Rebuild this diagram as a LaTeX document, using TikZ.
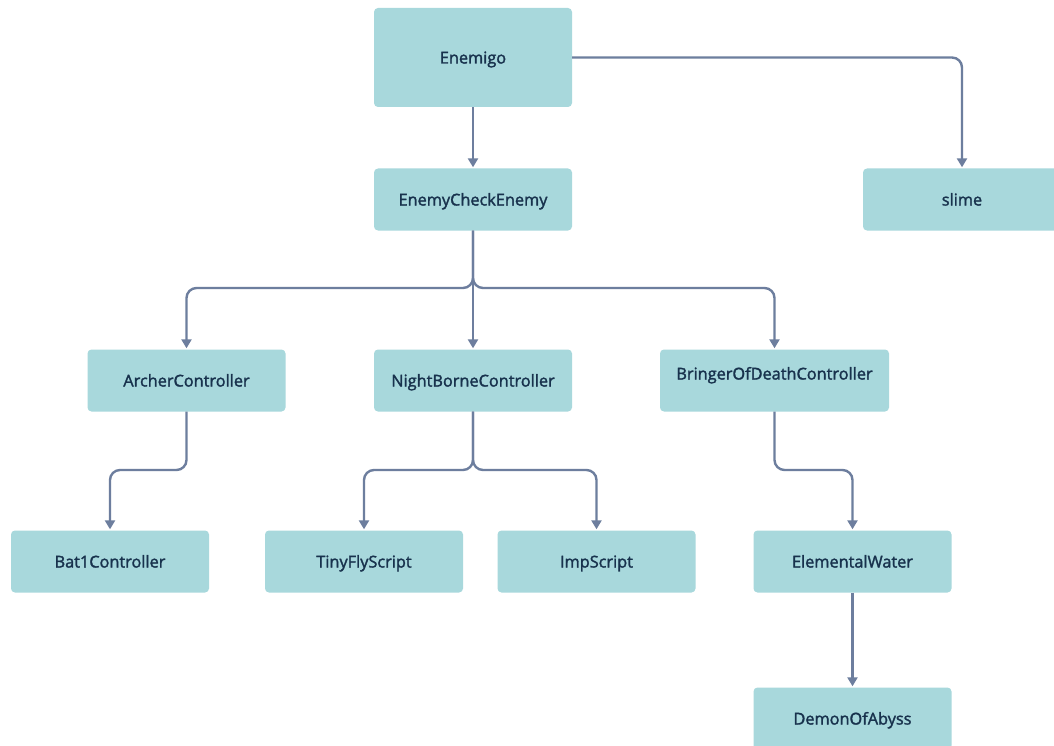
\documentclass[tikz,border=0pt]{standalone}
\usepackage{fontspec}
\newfontfamily\labfont{Open Sans}[FakeBold=1.8]
\usetikzlibrary{arrows.meta}
\definecolor{boxfill}{HTML}{A8D8DC}
\definecolor{boxtext}{HTML}{18324D}
\definecolor{linkc}{HTML}{6D7E9E}
\tikzset{
  cls/.style={fill=boxfill, draw=none, rounded corners=4pt, minimum width=198pt,
    minimum height=62pt, inner sep=0pt, font=\labfont\fontsize{16.3}{19}\selectfont,
    text=boxtext, text height=13.5pt, text depth=1.5pt},
  link/.style={draw=linkc, line width=2.4pt, rounded corners=10pt,
    -{Triangle[width=10pt,length=9pt]}, shorten >=1pt}
}
\begin{document}
\begin{tikzpicture}[x=1pt,y=-1pt]
\useasboundingbox (0,0) rectangle (1054,746);
\fill[white] (0,0) rectangle (1054,746);

% class boxes
\node[cls, minimum height=99pt] (enemigo) at (473,57.5) {Enemigo};
\node[cls] (check) at (473,199.5) {EnemyCheckEnemy};
\node[cls] (slime) at (962,199.5) {slime};
\node[cls] (archer) at (186.5,380.5) {ArcherController};
\node[cls] (night) at (473,380.5) {NightBorneController};
\node[cls, minimum width=229pt, text depth=15.5pt] (bringer) at (774.5,380.5) {BringerOfDeathController};
\node[cls] (bat) at (110,561.5) {Bat1Controller};
\node[cls] (tiny) at (364,561.5) {TinyFlyScript};
\node[cls] (imp) at (596.5,561.5) {ImpScript};
\node[cls] (water) at (852.5,561.5) {ElementalWater};
\node[cls] (demon) at (852.5,718.5) {DemonOfAbyss};

% branching levels
\coordinate (lvA) at (0,288);
\coordinate (lvB) at (0,470);

% inheritance links
\draw[link] (enemigo) -- (check);
\draw[link] (enemigo.east) -| (slime.north);
\draw[link] (check.south) -- (check.south |- lvA) -| (archer.north);
\draw[link] (check.south) -- (night.north);
\draw[link] (check.south) -- (check.south |- lvA) -| (bringer.north);
\draw[link] (archer.south) -- (archer.south |- lvB) -| (bat.north);
\draw[link] (night.south) -- (night.south |- lvB) -| (tiny.north);
\draw[link] (night.south) -- (night.south |- lvB) -| (imp.north);
\draw[link] (bringer.south) -- (bringer.south |- lvB) -| (water.north);
\draw[link] (water) -- (demon);
\end{tikzpicture}
\end{document}
